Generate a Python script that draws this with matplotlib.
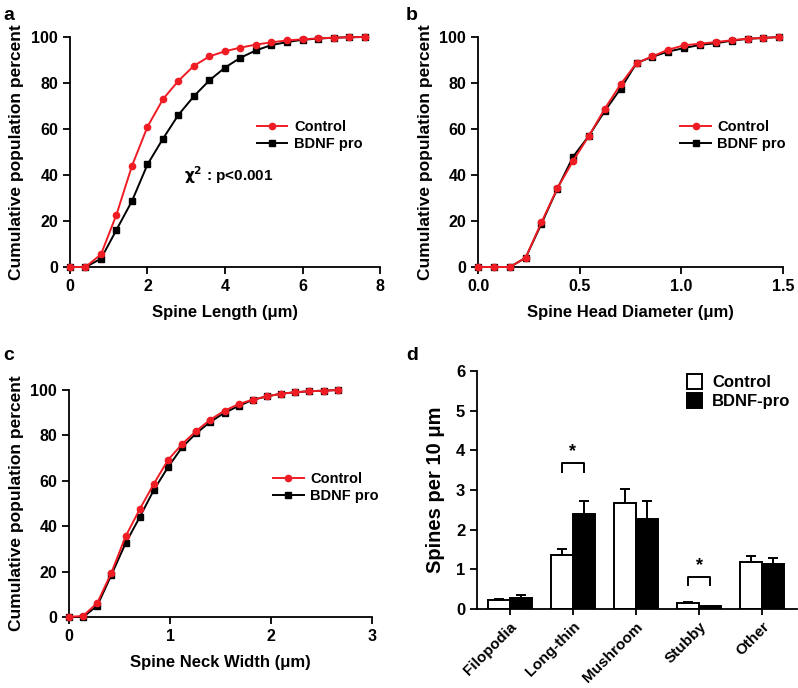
import numpy as np
import matplotlib
matplotlib.use("Agg")
import matplotlib.pyplot as plt
from matplotlib.patches import Patch

plt.rcParams['font.family'] = ['Liberation Sans', 'DejaVu Sans']
plt.rcParams['font.weight'] = 'bold'
plt.rcParams['axes.labelweight'] = 'bold'

# ---- panel a : spine length ----
len_x = [0, 0.4, 0.8, 1.2, 1.6, 2.0, 2.4, 2.8, 3.2, 3.6, 4.0, 4.4, 4.8, 5.2, 5.6, 6.0, 6.4, 6.8, 7.2, 7.6]
len_ctrl = [0, 0, 5.5, 22.8, 44, 61, 73, 81, 87.5, 91.6, 93.8, 95.4, 96.7, 97.7, 98.5, 99, 99.4, 99.7, 99.9, 100]
len_bdnf = [0, 0, 3.6, 16.2, 28.7, 44.6, 55.8, 66.2, 74.3, 81.2, 86.7, 91, 94.2, 96.5, 97.8, 98.8, 99.3, 99.7, 99.9, 100]

# ---- panel b : spine head diameter ----
head_x = [0, 0.078, 0.156, 0.234, 0.312, 0.39, 0.468, 0.546, 0.624, 0.702,
          0.78, 0.858, 0.936, 1.014, 1.092, 1.17, 1.248, 1.326, 1.404, 1.482]
head_ctrl = [0, 0, 0, 4.0, 19.4, 34.2, 46.2, 57.1, 68.9, 79.5, 88.7, 91.6, 94.5, 96.4, 97.1, 97.8, 98.6, 99.3, 99.6, 100]
head_bdnf = [0, 0, 0, 4.0, 18.8, 34.0, 48.0, 57.1, 67.9, 77.6, 88.7, 91.4, 93.7, 95.2, 96.6, 97.3, 98.4, 99.2, 99.6, 100]

# ---- panel c : spine neck width ----
neck_x = [0, 0.14, 0.28, 0.42, 0.56, 0.70, 0.84, 0.98, 1.12, 1.26,
          1.40, 1.54, 1.68, 1.82, 1.96, 2.10, 2.24, 2.38, 2.52, 2.66]
neck_ctrl = [0, 0.5, 6.2, 19.6, 35.5, 47.5, 58.7, 69.2, 76.2, 82, 87, 90.9, 93.8, 95.8, 97.2, 98.4, 99, 99.5, 99.7, 100]
neck_bdnf = [0, 0, 5, 18.6, 32.5, 44, 56, 66, 74.8, 81, 86, 90, 93, 95.7, 97.2, 98.4, 99, 99.5, 99.7, 100]

# ---- panel d : spine density by type ----
types = ["Filopodia", "Long-thin", "Mushroom", "Stubby", "Other"]
dens_ctrl = [0.22, 1.35, 2.68, 0.15, 1.18]
dens_ctrl_err = [0.03, 0.17, 0.35, 0.03, 0.15]
dens_bdnf = [0.29, 2.39, 2.27, 0.07, 1.13]
dens_bdnf_err = [0.06, 0.33, 0.45, 0.01, 0.16]

RED = "#f01c24"

fig = plt.figure(figsize=(7.98, 6.88), dpi=100)


def style_axes(ax, size=11.5):
    for s in ["top", "right"]:
        ax.spines[s].set_visible(False)
    for s in ["left", "bottom"]:
        ax.spines[s].set_linewidth(1.3)
    ax.tick_params(direction="out", length=5, width=1.3, labelsize=size)
    for lab in ax.get_xticklabels() + ax.get_yticklabels():
        lab.set_fontweight("bold")


def cumul_panel(rect, x, ctrl, bdnf, xlim, xticks, xticklabels, xlabel, leg_anchor):
    ax = fig.add_axes(rect)
    ax.plot(x, bdnf, color="black", marker="s", markersize=4.5, lw=1.4, clip_on=False, zorder=3)
    ax.plot(x, ctrl, color=RED, marker="o", markersize=4.5, lw=1.4, clip_on=False, zorder=4)
    ax.set_xlim(*xlim)
    ax.set_ylim(0, 100)
    ax.set_xticks(xticks)
    ax.set_xticklabels(xticklabels)
    ax.set_yticks([0, 20, 40, 60, 80, 100])
    ax.set_xlabel(xlabel, fontsize=12, fontweight="bold", labelpad=8)
    ax.set_ylabel("Cumulative population percent", fontsize=12.5, fontweight="bold", labelpad=5)
    style_axes(ax)
    h_c = plt.Line2D([], [], color=RED, marker="o", markersize=4.5, lw=1.4)
    h_b = plt.Line2D([], [], color="black", marker="s", markersize=4.5, lw=1.4)
    ax.legend([h_c, h_b], ["Control", "BDNF pro"], loc="center left", bbox_to_anchor=leg_anchor,
              frameon=False, handlelength=2.1, handletextpad=0.45, labelspacing=0.2,
              prop={"weight": "bold", "size": 10.5})
    return ax


ax_a = cumul_panel([0.0877, 0.6119, 0.3885, 0.3343], len_x, len_ctrl, len_bdnf, (0, 8),
                   [0, 2, 4, 6, 8], ["0", "2", "4", "6", "8"], "Spine Length (\u03bcm)", (0.56, 0.57))
ax_a.text(2.95, 40, r"$\mathbf{\chi^2}$ : p<0.001", fontsize=11, fontweight="bold", va="center")

cumul_panel([0.599, 0.6119, 0.3822, 0.3343], head_x, head_ctrl, head_bdnf, (0, 1.5),
            [0, 0.5, 1.0, 1.5], ["0.0", "0.5", "1.0", "1.5"], "Spine Head Diameter (\u03bcm)", (0.62, 0.57))

cumul_panel([0.0865, 0.1032, 0.3797, 0.3299], neck_x, neck_ctrl, neck_bdnf, (0, 3),
            [0, 1, 2, 3], ["0", "1", "2", "3"], "Spine Neck Width (\u03bcm)", (0.63, 0.57))

# ---- bar chart ----
ax_d = fig.add_axes([0.5977, 0.1148, 0.401, 0.3459])
pos = np.arange(len(types))
w = 0.35
err_kw = dict(ecolor="black", elinewidth=1.4, capsize=3.6, capthick=1.4)
ax_d.bar(pos - w / 2, dens_ctrl, w, color="white", edgecolor="black", linewidth=1.4,
         yerr=[np.zeros(len(types)), dens_ctrl_err], error_kw=err_kw, label="Control")
ax_d.bar(pos + w / 2, dens_bdnf, w, color="black", edgecolor="black", linewidth=1.4,
         yerr=[np.zeros(len(types)), dens_bdnf_err], error_kw=err_kw, label="BDNF-pro")
ax_d.set_xlim(-0.52, 4.55)
ax_d.set_ylim(0, 6)
ax_d.set_yticks([0, 1, 2, 3, 4, 5, 6])
ax_d.set_xticks(pos)
ax_d.set_xticklabels(types, rotation=45, ha="right", rotation_mode="anchor")
ax_d.set_ylabel("Spines per 10 \u03bcm", fontsize=14.5, fontweight="bold", labelpad=8)
style_axes(ax_d, 12)
ax_d.tick_params(axis="x", length=4, labelsize=11)

# significance brackets
for i, y0, y1 in [(1, 3.46, 3.68), (3, 0.6, 0.8)]:
    xl, xr = pos[i] - w / 2, pos[i] + w / 2
    ax_d.plot([xl, xl, xr, xr], [y0, y1, y1, y0], color="black", lw=1.4)
    ax_d.text(pos[i], y1 + 0.08, "*", ha="center", va="bottom", fontsize=13, fontweight="bold")

ax_d.legend(handles=[Patch(facecolor="white", edgecolor="black", linewidth=1.4, label="Control"),
                     Patch(facecolor="black", edgecolor="black", linewidth=1.4, label="BDNF-pro")],
            loc="upper left", bbox_to_anchor=(0.61, 1.05), frameon=False,
            handlelength=0.9, handleheight=1.0, handletextpad=0.6, labelspacing=0.15,
            prop={"weight": "bold", "size": 12})

# panel letters
for x, y, t in [(0.004, 0.99, "a"), (0.508, 0.99, "b"), (0.004, 0.495, "c"), (0.509, 0.495, "d")]:
    fig.text(x, y, t, fontsize=14, fontweight="bold", va="top")

fig.savefig("out.png", dpi=100)
